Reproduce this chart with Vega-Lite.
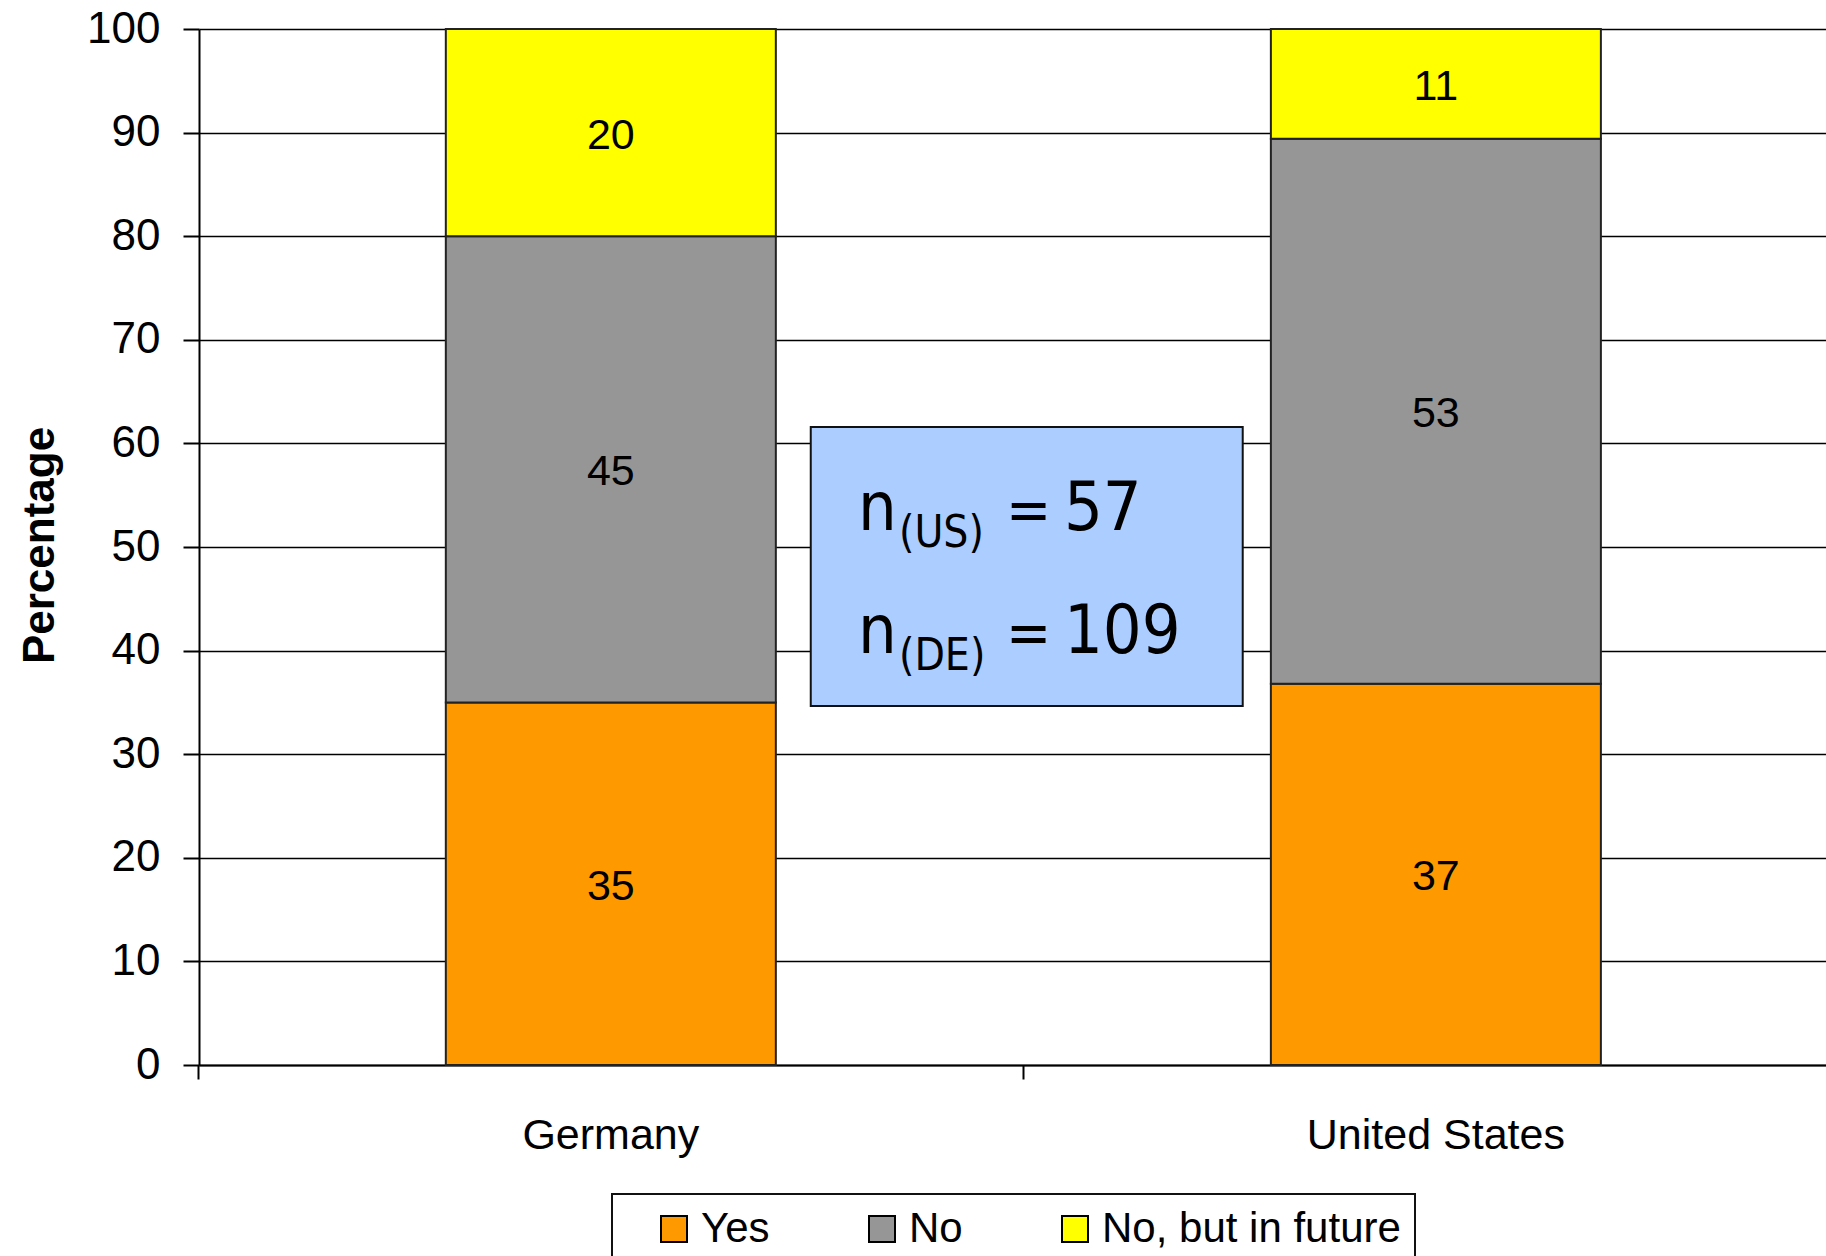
{
  "$schema": "https://vega.github.io/schema/vega-lite/v6.json",
  "width": 1627,
  "height": 1036,
  "autosize": {"type": "none"},
  "padding": {"left": 199, "top": 29, "right": 0, "bottom": 191},
  "background": "white",
  "config": {
    "font": "Liberation Sans",
    "view": {"stroke": null},
    "text": {"font": "Liberation Sans"}
  },
  "datasets": {
    "survey": [
      {"country": "Germany", "answer": "Yes", "rank": 1, "value": 35},
      {"country": "Germany", "answer": "No", "rank": 2, "value": 45},
      {"country": "Germany", "answer": "No, but in future", "rank": 3, "value": 20},
      {"country": "United States", "answer": "Yes", "rank": 1, "value": 36.8},
      {"country": "United States", "answer": "No", "rank": 2, "value": 52.6},
      {"country": "United States", "answer": "No, but in future", "rank": 3, "value": 10.6}
    ],
    "samples": [
      {"group": "(US)", "n": 57},
      {"group": "(DE)", "n": 109}
    ]
  },
  "layer": [
    {
      "data": {"name": "survey"},
      "layer": [
        {
          "mark": {"type": "bar", "stroke": "#222", "strokeWidth": 2},
          "encoding": {
            "x": {
              "field": "country", "type": "nominal", "sort": ["Germany", "United States"],
              "scale": {"paddingInner": 0.6, "paddingOuter": 0.286, "align": 0.523},
              "axis": {
                "title": null, "labelAngle": 0, "labelFontSize": 43, "labelColor": "black",
                "labelPadding": 35, "labelLimit": 1000, "domainColor": "black", "domainWidth": 2,
                "tickColor": "black", "tickWidth": 2, "tickSize": 14, "bandPosition": -0.75,
                "grid": false
              }
            },
            "y": {
              "field": "value", "type": "quantitative", "stack": "zero",
              "scale": {"domain": [0, 100], "nice": false},
              "axis": {
                "title": "Percentage", "values": [0, 10, 20, 30, 40, 50, 60, 70, 80, 90, 100],
                "grid": true, "gridColor": "black", "gridWidth": 1.6, "gridOpacity": 1,
                "domainColor": "black", "domainWidth": 2, "tickColor": "black", "tickWidth": 2,
                "tickSize": 16, "labelPadding": 23, "labelFontSize": 44, "labelColor": "black",
                "titleFontSize": 44, "titleFontWeight": "bold", "titleColor": "black",
                "titleX": -159, "titleY": 516, "titleAngle": -90, "titleAlign": "center", "titleBaseline": "middle"
              }
            },
            "color": {
              "field": "answer", "type": "nominal",
              "scale": {"domain": ["Yes", "No", "No, but in future"], "range": ["#FF9900", "#969696", "#FFFF00"]},
              "legend": {
                "title": " ", "titleOrient": "left", "titleFontSize": 42, "titlePadding": 27,
                "orient": "none", "legendX": 413, "legendY": 1165, "direction": "horizontal", "columns": 3,
                "padding": 14, "strokeColor": "#111", "fillColor": "white",
                "symbolType": "square", "symbolSize": 676, "symbolStrokeColor": "black", "symbolStrokeWidth": 2,
                "symbolOpacity": 1, "labelFontSize": 42, "labelColor": "black", "labelOffset": 6,
                "columnPadding": 91, "labelLimit": 600,
                "encode": {"legend": {"update": {"strokeWidth": {"value": 2}}}}
              }
            },
            "order": {"field": "rank", "type": "quantitative"}
          }
        },
        {
          "mark": {"type": "text", "fontSize": 43, "color": "black", "baseline": "middle", "align": "center", "dy": 3},
          "encoding": {
            "x": {
              "field": "country", "type": "nominal", "sort": ["Germany", "United States"],
              "scale": {"paddingInner": 0.6, "paddingOuter": 0.286, "align": 0.523}
            },
            "y": {"field": "value", "type": "quantitative", "stack": "zero", "bandPosition": 0.5},
            "order": {"field": "rank", "type": "quantitative"},
            "text": {"field": "value", "type": "quantitative", "format": ".0f"}
          }
        }
      ]
    },
    {
      "data": {"name": "samples"},
      "layer": [
        {
          "transform": [{"filter": "datum.group === '(US)'"}],
          "mark": {"type": "rect", "fill": "#ABCDFF", "stroke": "#111", "strokeWidth": 2},
          "encoding": {
            "x": {"datum": 37.6, "type": "quantitative", "scale": {"domain": [0, 100]}, "axis": null},
            "x2": {"datum": 64.15},
            "y": {"datum": 34.65, "type": "quantitative"},
            "y2": {"datum": 61.58}
          }
        },
        {
          "transform": [{"filter": "datum.group === '(US)'"}],
          "mark": {"type": "text", "font": "DejaVu Sans Condensed, DejaVu Sans", "fontSize": 68, "align": "left", "baseline": "alphabetic", "color": "black"},
          "encoding": {
            "x": {"datum": 40.5, "type": "quantitative"},
            "y": {"datum": 51.64, "type": "quantitative"},
            "text": {"value": "n"}
          }
        },
        {
          "transform": [{"filter": "datum.group === '(US)'"}],
          "mark": {"type": "text", "font": "DejaVu Sans Condensed, DejaVu Sans", "fontSize": 44, "align": "left", "baseline": "alphabetic", "dx": 41, "dy": 17, "color": "black"},
          "encoding": {
            "x": {"datum": 40.5, "type": "quantitative"},
            "y": {"datum": 51.64, "type": "quantitative"},
            "text": {"field": "group"}
          }
        },
        {
          "transform": [{"filter": "datum.group === '(US)'"}],
          "mark": {"type": "text", "font": "DejaVu Sans Condensed, DejaVu Sans", "fontSize": 60, "align": "left", "baseline": "alphabetic", "dx": 148, "color": "black"},
          "encoding": {
            "x": {"datum": 40.5, "type": "quantitative"},
            "y": {"datum": 51.64, "type": "quantitative"},
            "text": {"value": "="}
          }
        },
        {
          "transform": [{"filter": "datum.group === '(US)'"}],
          "mark": {"type": "text", "font": "DejaVu Sans Condensed, DejaVu Sans", "fontSize": 68, "align": "left", "baseline": "alphabetic", "dx": 206, "color": "black"},
          "encoding": {
            "x": {"datum": 40.5, "type": "quantitative"},
            "y": {"datum": 51.64, "type": "quantitative"},
            "text": {"field": "n", "type": "quantitative"}
          }
        },
        {
          "transform": [{"filter": "datum.group === '(DE)'"}],
          "mark": {"type": "text", "font": "DejaVu Sans Condensed, DejaVu Sans", "fontSize": 68, "align": "left", "baseline": "alphabetic", "color": "black"},
          "encoding": {
            "x": {"datum": 40.5, "type": "quantitative"},
            "y": {"datum": 39.77, "type": "quantitative"},
            "text": {"value": "n"}
          }
        },
        {
          "transform": [{"filter": "datum.group === '(DE)'"}],
          "mark": {"type": "text", "font": "DejaVu Sans Condensed, DejaVu Sans", "fontSize": 44, "align": "left", "baseline": "alphabetic", "dx": 41, "dy": 17, "color": "black"},
          "encoding": {
            "x": {"datum": 40.5, "type": "quantitative"},
            "y": {"datum": 39.77, "type": "quantitative"},
            "text": {"field": "group"}
          }
        },
        {
          "transform": [{"filter": "datum.group === '(DE)'"}],
          "mark": {"type": "text", "font": "DejaVu Sans Condensed, DejaVu Sans", "fontSize": 60, "align": "left", "baseline": "alphabetic", "dx": 148, "color": "black"},
          "encoding": {
            "x": {"datum": 40.5, "type": "quantitative"},
            "y": {"datum": 39.77, "type": "quantitative"},
            "text": {"value": "="}
          }
        },
        {
          "transform": [{"filter": "datum.group === '(DE)'"}],
          "mark": {"type": "text", "font": "DejaVu Sans Condensed, DejaVu Sans", "fontSize": 68, "align": "left", "baseline": "alphabetic", "dx": 206, "color": "black"},
          "encoding": {
            "x": {"datum": 40.5, "type": "quantitative"},
            "y": {"datum": 39.77, "type": "quantitative"},
            "text": {"field": "n", "type": "quantitative"}
          }
        }
      ]
    }
  ],
  "resolve": {"scale": {"x": "independent"}, "axis": {"x": "independent"}}
}
